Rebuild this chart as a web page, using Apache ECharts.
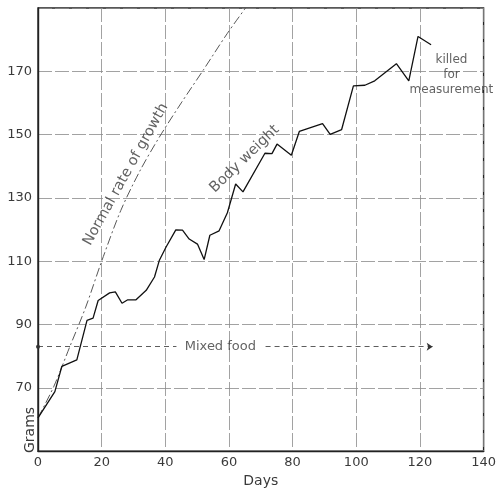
<!DOCTYPE html>
<html><head><meta charset="utf-8">
<script src="https://cdn.jsdelivr.net/npm/echarts@6/dist/echarts.min.js"></script>
<style>html,body{margin:0;padding:0;background:#fff}#c{width:499px;height:493px}</style>
</head><body><div id="c"></div>
<script>
// Body weight (grams) by day
const bodyDays  = [0, 5.3, 7.5, 12.2, 15.4, 17.3, 18.9, 22.5, 24.3, 26.4, 28.2, 30.8, 34, 36.6, 38.1, 40.2, 43.3, 45.4, 47.5, 50.1, 52.2, 54, 56.9, 59.5, 62.1, 64.4, 71.3, 73.5, 75.1, 79.6, 82.1, 89.4, 91.8, 95.4, 99.1, 102.7, 105.8, 112.6, 116.5, 119.4, 123.5];
const bodyGrams = [60.5, 68.8, 76.8, 78.8, 91.3, 92, 97.6, 100, 100.3, 96.7, 97.8, 97.8, 100.8, 105, 110.2, 114.4, 119.9, 119.8, 117, 115.4, 110.5, 118.2, 119.6, 125.3, 134.4, 131.9, 144.1, 144, 147, 143.5, 151, 153.5, 150.1, 151.6, 165.4, 165.6, 167, 172.4, 167, 181, 178.4];
// Normal rate of growth
const normalDays  = [0, 5, 10, 15, 20, 26, 32, 38, 45, 52, 59.5, 65.2];
const normalGrams = [60.5, 70.5, 83, 95.5, 110, 126, 138.5, 149, 160, 170.5, 182, 190];
// Axis ticks
const xTicks = [0, 20, 40, 60, 80, 100, 120, 140];
const yTickLabels = [70, 90, 110, 130, 150, 170];
// Mixed food annotation (grams level, day range, text gap)
const mixedFoodLevel = 83;
const mixedFoodDays = [0, 43.5, 71.5, 124];
const mixedFoodLabelDay = 57.3;
// Text annotations: [day, grams, text, rotation]
const annotations = [
  [27.6, 137.4, 'Normal rate of growth', 61],
  [64.9, 142.3, 'Body weight', 44],
  [129.9, 169, 'killed\nfor\nmeasurement', 0]
];

const FONT = 'DejaVu Sans';
const TXT = '#3a3a3a';
const chart = echarts.init(document.getElementById('c'), null, {renderer: 'canvas'});
const gridLine = {show: true, lineStyle: {color: '#8a8a8a', width: 0.8, type: [14, 3]}};

chart.setOption({
  animation: false,
  backgroundColor: '#fff',
  grid: {left: 38, right: 13, top: 8, bottom: 37, show: true, borderColor: '#222', borderWidth: 1.4, backgroundColor: 'transparent'},
  xAxis: {
    type: 'value', min: xTicks[0], max: xTicks[xTicks.length - 1], interval: 20,
    name: 'Days', nameLocation: 'middle', nameGap: 20,
    nameTextStyle: {fontFamily: FONT, fontSize: 14, color: TXT},
    axisLine: {show: true, lineStyle: {color: '#222', width: 1.4}},
    axisTick: {show: false},
    axisLabel: {fontFamily: FONT, fontSize: 13, color: TXT, margin: 5, showMinLabel: true, showMaxLabel: true},
    splitLine: gridLine
  },
  yAxis: {
    type: 'value', min: 50, max: 190, interval: 20,
    axisLine: {show: true, lineStyle: {color: '#222', width: 1.4}},
    axisTick: {show: false},
    axisLabel: {fontFamily: FONT, fontSize: 13, color: TXT, margin: 6,
      formatter: v => yTickLabels.includes(v) ? String(v) : ''},
    splitLine: gridLine
  },
  series: [
    {
      type: 'line', name: 'Body weight', showSymbol: false, symbol: 'none',
      data: bodyDays.map((d, i) => [d, bodyGrams[i]]),
      lineStyle: {color: '#111', width: 1.3}, z: 5
    },
    {
      type: 'line', name: 'Normal rate of growth', showSymbol: false, symbol: 'none', smooth: 0.3,
      data: normalDays.map((d, i) => [d, normalGrams[i]]),
      lineStyle: {color: '#444', width: 0.9, type: [9, 3, 2, 3]}, z: 4
    },
    {
      type: 'line', name: 'Mixed food', data: [], symbol: 'none',
      markLine: {
        silent: true, animation: false,
        label: {show: false},
        lineStyle: {color: '#333', width: 0.8, type: [5, 4]},
        data: [
          [{coord: [mixedFoodDays[0], mixedFoodLevel], symbol: 'circle', symbolSize: 4},
           {coord: [mixedFoodDays[1], mixedFoodLevel], symbol: 'none'}],
          [{coord: [mixedFoodDays[2], mixedFoodLevel], symbol: 'none'},
           {coord: [mixedFoodDays[3], mixedFoodLevel], symbol: 'arrow', symbolSize: 6}]
        ]
      }
    },
    {
      type: 'scatter', name: 'labels', symbolSize: 0, silent: true, z: 6,
      data: annotations.map(a => ({
        value: [a[0], a[1]],
        label: {show: true, position: 'inside', formatter: a[2], rotate: a[3],
          fontFamily: FONT, fontSize: a[3] === 0 ? 12 : 14.5, lineHeight: 15, color: TXT,
          align: 'center', verticalAlign: 'middle'}
      })).concat([{
        value: [mixedFoodLabelDay, mixedFoodLevel],
        label: {show: true, position: 'inside', formatter: 'Mixed food', fontFamily: FONT, fontSize: 13, color: TXT,
          align: 'center', verticalAlign: 'middle'}
      }])
    }
  ],
  graphic: [{
    type: 'text', x: 30, y: 430, rotation: Math.PI / 2,
    style: {text: 'Grams', fontFamily: FONT, fontSize: 14, fill: TXT, align: 'center', verticalAlign: 'middle'}
  }]
});
</script></body></html>
